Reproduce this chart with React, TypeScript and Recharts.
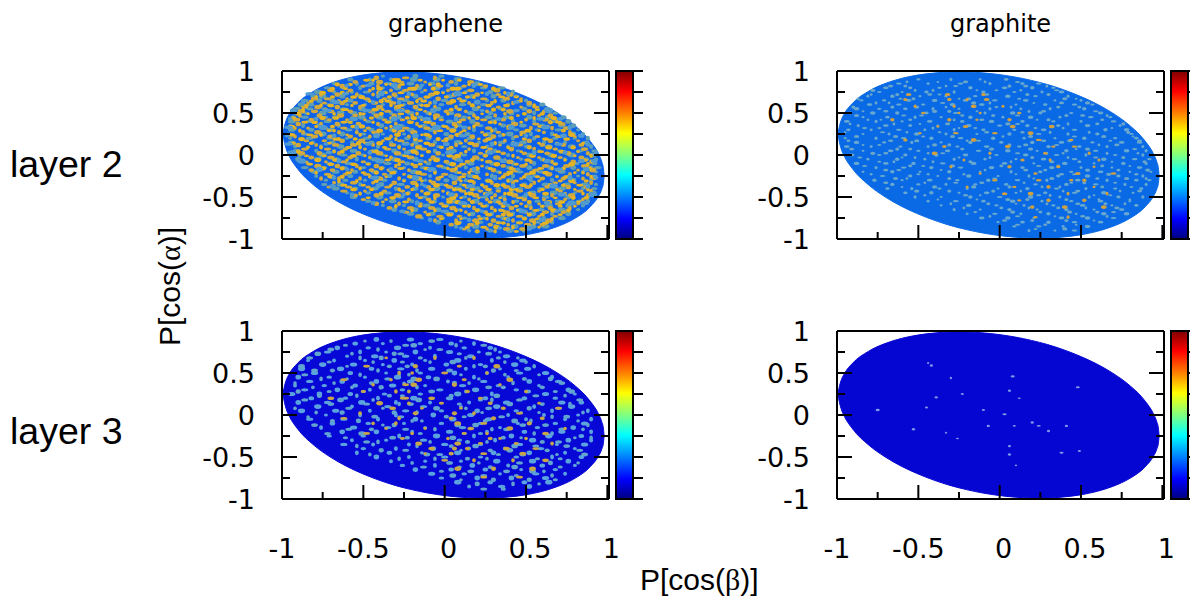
import { Area, Bar, BarChart, ComposedChart, Scatter, XAxis, YAxis } from 'recharts'

// each speck row is [y, x, x, x ...] in hundredths
const ellipseX = [-0.995, -0.985, -0.975, -0.955, -0.905, -0.805, -0.705, -0.605, -0.505, -0.405, -0.305, -0.205, -0.105, -0.005, 0.095, 0.195, 0.295, 0.395, 0.495, 0.595, 0.695, 0.795, 0.895, 0.945, 0.965, 0.975, 0.98]
const ellipseTop = [0.247, 0.342, 0.41, 0.491, 0.615, 0.76, 0.85, 0.911, 0.951, 0.975, 0.988, 0.988, 0.978, 0.958, 0.928, 0.888, 0.838, 0.775, 0.699, 0.609, 0.498, 0.358, 0.163, 0.015, -0.077, -0.15, -0.247]
const ellipseBottom = [0.247, 0.15, 0.077, -0.015, -0.163, -0.358, -0.498, -0.609, -0.699, -0.775, -0.838, -0.888, -0.928, -0.958, -0.978, -0.988, -0.988, -0.975, -0.951, -0.911, -0.85, -0.76, -0.615, -0.491, -0.41, -0.342, -0.247]

const axisTicks = [-1, -0.75, -0.5, -0.25, 0, 0.25, 0.5, 0.75, 1]
const barTicks = [0, 0.125, 0.25, 0.375, 0.5, 0.625, 0.75, 0.875, 1]
const jetOffsets = ['0%', '12%', '25%', '37%', '50%', '62%', '75%', '88%', '100%']
const jetColors = ['#800000', '#ff0000', '#ff8000', '#ffff00', '#80ff80', '#00ffff', '#0080ff', '#0000ff', '#000080']

const tlWarm = [
  [92, -42, -24, -6],
  [87, -55, -40, -27, -12, 4, 16],
  [82, -63, -50, -41, -28, -17, -3, 12, 25],
  [77, -70, -58, -46, -33, -24, -12, 2, 16, 32],
  [72, -76, -66, -54, -44, -31, -20, -8, 6, 20, 33, 40],
  [67, -80, -72, -60, -48, -37, -27, -15, -4, 9, 24, 38, 47],
  [62, -84, -74, -63, -55, -43, -32, -21, -9, 3, 15, 29, 42, 52],
  [57, -86, -78, -66, -52, -40, -29, -18, -6, 7, 21, 33, 47, 56],
  [52, -88, -80, -70, -58, -46, -35, -23, -12, 1, 13, 26, 40, 52, 61],
  [47, -89, -77, -64, -55, -42, -31, -20, -5, 8, 18, 31, 45, 58, 65],
  [42, -91, -82, -71, -60, -49, -37, -26, -14, -2, 11, 24, 36, 50, 62, 69],
  [37, -90, -76, -66, -53, -41, -30, -17, -7, 6, 20, 34, 43, 56, 72],
  [32, -92, -84, -73, -62, -47, -36, -24, -11, 2, 15, 27, 39, 53, 66, 75],
  [27, -87, -78, -65, -54, -43, -28, -19, -6, 10, 23, 33, 48, 61, 77],
  [22, -92, -80, -70, -58, -46, -33, -22, -9, 4, 17, 30, 44, 57, 70, 80],
  [17, -85, -74, -63, -51, -38, -27, -15, 0, 13, 25, 37, 52, 65, 82],
  [12, -90, -79, -67, -56, -44, -32, -20, -8, 7, 19, 34, 46, 60, 73, 84],
  [7, -86, -72, -61, -49, -35, -25, -13, 2, 15, 28, 41, 55, 68, 86],
  [2, -88, -77, -65, -53, -40, -29, -17, -4, 10, 22, 36, 49, 63, 76, 88],
  [-3, -82, -70, -58, -46, -33, -21, -7, 6, 19, 32, 45, 58, 71, 84],
  [-8, -86, -73, -62, -50, -38, -26, -12, 1, 14, 27, 40, 53, 66, 79, 90],
  [-13, -78, -66, -54, -42, -30, -18, -3, 9, 23, 36, 48, 62, 75, 86],
  [-18, -82, -69, -57, -45, -34, -22, -9, 5, 17, 30, 43, 56, 70, 82, 91],
  [-23, -72, -61, -48, -37, -25, -13, 0, 12, 26, 38, 51, 64, 77, 88],
  [-28, -76, -65, -52, -40, -28, -16, -4, 8, 21, 34, 47, 60, 73, 85, 92],
  [-33, -68, -56, -44, -31, -19, -7, 6, 18, 29, 42, 55, 68, 80, 90],
  [-38, -71, -59, -47, -35, -23, -10, 3, 14, 25, 38, 51, 63, 76, 87],
  [-43, -62, -49, -37, -26, -14, -1, 11, 22, 33, 46, 58, 71, 83, 90],
  [-48, -55, -42, -29, -17, -5, 7, 19, 31, 43, 54, 66, 78, 88],
  [-53, -50, -36, -22, -10, 3, 15, 26, 37, 49, 61, 74, 85],
  [-58, -42, -28, -15, -2, 10, 22, 35, 47, 58, 70, 82],
  [-63, -34, -21, -8, 5, 18, 29, 41, 53, 65, 77],
  [-68, -24, -12, 1, 13, 25, 38, 50, 62, 73],
  [-73, -16, -3, 9, 21, 33, 46, 58, 68],
  [-78, -6, 7, 19, 30, 42, 54, 64],
  [-83, 4, 16, 28, 39, 51, 60],
  [-88, 12, 26, 38, 48],
]
const tlWarm2 = [
  [89, -48, -44, -31, -29, -15, -1, 9],
  [84, -66, -58, -36, -33, -26, -9, -4, 15, 22],
  [79, -69, -61, -44, -40, -21, -19, -7, 5, 8, 30],
  [74, -75, -63, -60, -41, -36, -27, -5, -1, 12, 23, 37],
  [69, -79, -69, -56, -51, -34, -23, -11, 1, 14, 18, 35, 44],
  [64, -82, -65, -61, -46, -39, -35, -17, -13, 5, 11, 31, 46],
  [59, -85, -76, -70, -57, -50, -33, -27, -14, -11, 17, 27, 38, 55],
  [54, -87, -73, -62, -60, -43, -38, -26, -15, 4, 9, 30, 36, 57],
  [49, -90, -84, -68, -52, -50, -39, -27, -17, -9, 2, 23, 37, 49, 60],
  [44, -93, -75, -67, -57, -45, -33, -23, -19, -6, 15, 20, 41, 55, 67],
  [39, -86, -80, -62, -58, -44, -35, -21, -12, -10, 9, 28, 31, 47, 65, 70],
  [34, -94, -79, -69, -56, -51, -33, -28, -15, 0, 7, 18, 40, 59, 63],
  [29, -89, -71, -68, -49, -40, -31, -26, -3, 5, 12, 29, 51, 58, 73],
  [24, -94, -83, -76, -60, -52, -41, -29, -14, -11, 8, 25, 36, 47, 68, 78],
  [19, -88, -67, -65, -55, -35, -30, -18, -4, 1, 21, 27, 49, 62, 75],
  [14, -93, -82, -71, -53, -48, -40, -24, -11, 10, 16, 31, 42, 58, 69, 85],
  [9, -84, -76, -59, -52, -37, -28, -16, -2, 4, 24, 39, 52, 64, 79],
  [4, -90, -68, -63, -45, -42, -22, -19, -10, 13, 26, 33, 47, 59, 72, 82],
  [-1, -85, -74, -56, -49, -36, -24, -14, 3, 8, 25, 42, 54, 67, 80, 90],
  [-6, -78, -67, -60, -41, -35, -29, -9, -5, 17, 23, 37, 51, 61, 74, 86],
  [-11, -83, -70, -56, -47, -28, -20, -15, 5, 11, 32, 44, 50, 68, 78, 88],
  [-16, -75, -63, -52, -39, -27, -11, 2, 7, 20, 28, 41, 59, 66, 73, 89],
  [-21, -79, -59, -50, -42, -32, -16, -6, 9, 15, 34, 40, 54, 62, 80, 85],
  [-26, -70, -63, -46, -36, -21, -2, 11, 19, 31, 36, 49, 57, 69, 75, 90],
  [-31, -65, -54, -42, -25, -14, -9, 10, 16, 27, 39, 44, 58, 71, 78, 87],
  [-36, -62, -50, -33, -17, -5, 1, 12, 23, 32, 36, 48, 53, 65, 73, 83],
  [-41, -56, -45, -28, -20, -8, 6, 9, 17, 27, 41, 44, 60, 69, 80, 88],
  [-46, -52, -39, -23, -11, 2, 13, 16, 25, 37, 40, 52, 62, 74, 85],
  [-51, -47, -32, -15, -6, 5, 10, 21, 29, 34, 46, 56, 68, 79, 87],
  [-56, -38, -24, -8, 3, 8, 17, 28, 33, 42, 52, 64, 72, 83],
  [-61, -30, -15, 0, 12, 15, 24, 36, 44, 50, 60, 71, 80],
  [-66, -20, -6, 7, 10, 20, 31, 35, 45, 56, 67, 76],
  [-71, -10, 3, 15, 27, 36, 40, 52, 60, 71],
  [-76, -2, 10, 22, 26, 38, 49, 57, 66],
  [-81, 8, 20, 33, 36, 46, 55, 62],
  [-86, 14, 24, 32, 42, 52, 58],
  [-91, 20, 31, 44],
]
const tlTeal = [
  [94, -38, -18, -2],
  [90, -58, -46, -33, -19, -5, 8],
  [85, -68, -54, -45, -35, -21, -8, 7, 20],
  [80, -72, -62, -52, -38, -29, -16, -5, 10, 24, 35],
  [75, -78, -68, -57, -48, -37, -26, -14, -1, 13, 28, 42],
  [70, -80, -75, -63, -52, -41, -30, -18, -9, 3, 17, 30, 44],
  [65, -86, -77, -69, -58, -47, -34, -24, -12, 0, 12, 26, 36, 50],
  [60, -88, -82, -71, -60, -49, -38, -25, -15, -2, 11, 24, 39, 52, 60],
  [55, -91, -83, -74, -62, -51, -41, -30, -17, -4, 9, 19, 35, 49, 63],
  [50, -92, -85, -75, -64, -56, -44, -33, -21, -10, 4, 16, 28, 41, 55, 68],
  [45, -93, -86, -73, -67, -51, -40, -28, -15, -3, 12, 27, 38, 52, 64, 73],
  [40, -94, -83, -72, -60, -47, -34, -22, -9, 3, 17, 30, 42, 55, 68, 76],
  [35, -95, -87, -77, -65, -52, -39, -27, -13, -1, 9, 22, 36, 48, 60, 72, 79],
  [30, -94, -82, -70, -59, -45, -32, -21, -8, 5, 18, 31, 44, 57, 70, 82],
  [25, -96, -86, -75, -63, -50, -38, -25, -12, 1, 14, 27, 40, 53, 66, 79, 85],
  [20, -95, -83, -71, -60, -48, -35, -23, -10, 3, 16, 28, 42, 55, 68, 80, 88],
  [15, -94, -81, -69, -57, -45, -33, -18, -6, 8, 21, 35, 48, 61, 74, 87],
  [10, -92, -84, -76, -64, -52, -41, -28, -16, -3, 12, 26, 39, 51, 64, 78, 90],
  [5, -91, -79, -68, -56, -43, -31, -19, -6, 5, 18, 31, 45, 58, 71, 83, 92],
  [0, -89, -75, -62, -50, -38, -26, -14, -1, 12, 25, 39, 52, 65, 78, 91],
  [-5, -90, -78, -67, -54, -43, -31, -18, -5, 8, 21, 34, 47, 60, 74, 87, 93],
  [-10, -84, -71, -59, -47, -35, -23, -10, 3, 16, 29, 42, 55, 68, 81, 92],
  [-15, -86, -74, -62, -50, -38, -25, -13, 0, 13, 26, 39, 52, 65, 79, 90, 94],
  [-20, -80, -67, -55, -43, -31, -19, -6, 7, 20, 33, 46, 59, 72, 85, 93],
  [-25, -79, -70, -58, -46, -34, -22, -9, 4, 16, 29, 42, 56, 69, 82, 92],
  [-30, -73, -61, -49, -37, -25, -12, 1, 13, 27, 40, 53, 66, 79, 90],
  [-35, -74, -64, -52, -39, -27, -14, -2, 10, 23, 36, 49, 62, 75, 86, 93],
  [-40, -67, -55, -43, -30, -18, -5, 8, 20, 33, 46, 59, 72, 85, 92],
  [-45, -60, -47, -35, -22, -10, 2, 15, 28, 41, 54, 67, 80, 91],
  [-50, -56, -40, -27, -13, -1, 12, 24, 36, 49, 62, 76, 88],
  [-55, -47, -32, -20, -6, 6, 19, 32, 44, 57, 70, 83, 88],
  [-60, -38, -25, -11, 1, 14, 26, 39, 52, 64, 76, 85],
  [-65, -31, -18, -4, 9, 21, 34, 46, 59, 72, 82],
  [-70, -21, -8, 4, 17, 29, 42, 54, 66, 76],
  [-75, -14, -1, 12, 24, 36, 49, 61, 72],
  [-80, -4, 9, 22, 33, 46, 57, 66],
  [-85, 7, 19, 31, 43, 54, 62],
  [-90, 15, 28, 40, 49],
]
const tlTeal2 = [
  [83, -60, -47, -31, -14, 2, 18],
  [73, -83, -61, -39, -22, 8, 26, 39],
  [63, -87, -67, -44, -28, -6, 20, 44],
  [53, -93, -72, -48, -27, -7, 23, 44, 64],
  [43, -95, -79, -56, -31, -11, 7, 33, 59, 71],
  [33, -96, -75, -54, -29, -5, 12, 41, 62, 77],
  [23, -97, -68, -42, -18, 11, 34, 50, 73, 84],
  [13, -96, -73, -47, -24, 1, 29, 43, 70, 88],
  [3, -94, -71, -46, -23, 3, 28, 55, 74, 93],
  [-7, -88, -65, -40, -15, 10, 36, 63, 84, 92],
  [-17, -77, -60, -33, -8, 18, 45, 70, 87],
  [-27, -68, -43, -18, 6, 31, 52, 77, 93],
  [-37, -69, -41, -12, 16, 42, 67, 88],
  [-47, -57, -25, 4, 26, 50, 72, 91],
  [-57, -44, -17, 11, 37, 63, 78, 86],
  [-67, -26, 0, 23, 48, 69],
  [-77, -9, 15, 39, 60],
  [-87, 10, 34, 52],
]

const trPale = [
  [90, -50, -30, -12, 4],
  [85, -62, -44, -24, -6, 14, 24],
  [80, -70, -55, -37, -18, 3, 20, 33],
  [75, -74, -60, -45, -28, -10, 9, 26, 38],
  [70, -81, -66, -49, -33, -15, 5, 22, 42],
  [65, -85, -71, -56, -40, -21, -3, 16, 34, 50],
  [60, -80, -62, -47, -29, -11, 10, 28, 46, 57],
  [55, -88, -74, -58, -41, -25, -6, 13, 31, 52],
  [50, -92, -78, -63, -45, -27, -9, 8, 25, 44, 62],
  [45, -84, -69, -52, -36, -18, 2, 19, 37, 56, 68],
  [40, -94, -76, -60, -43, -23, -5, 14, 33, 50, 70],
  [35, -87, -70, -55, -38, -19, 0, 17, 36, 54, 74],
  [30, -93, -79, -62, -46, -28, -10, 9, 27, 46, 65, 78],
  [25, -84, -68, -51, -33, -14, 6, 24, 42, 60, 81],
  [20, -95, -76, -59, -42, -24, -4, 15, 34, 52, 71, 84],
  [15, -88, -71, -54, -36, -18, 1, 20, 38, 57, 75, 86],
  [10, -94, -79, -61, -44, -26, -8, 12, 30, 49, 66, 88],
  [5, -84, -67, -50, -32, -13, 5, 23, 41, 59, 78, 90],
  [0, -91, -74, -58, -39, -21, -2, 16, 35, 53, 71, 88],
  [-5, -81, -63, -46, -28, -9, 10, 27, 46, 64, 83, 92],
  [-10, -88, -70, -53, -35, -16, 3, 21, 40, 58, 76, 90],
  [-15, -76, -59, -42, -24, -5, 14, 32, 50, 69, 86],
  [-20, -84, -66, -49, -31, -12, 7, 25, 44, 62, 80, 93],
  [-25, -72, -55, -38, -19, -1, 18, 36, 54, 73, 88],
  [-30, -77, -60, -43, -26, -7, 11, 29, 48, 66, 84, 92],
  [-35, -66, -50, -33, -15, 4, 22, 41, 59, 77, 90],
  [-40, -69, -54, -37, -20, -1, 17, 35, 53, 71, 87],
  [-45, -58, -42, -25, -8, 10, 28, 46, 64, 82],
  [-50, -52, -36, -18, 0, 19, 37, 55, 73, 88],
  [-55, -44, -27, -10, 8, 26, 44, 62, 80],
  [-60, -36, -19, -2, 15, 33, 51, 69, 84],
  [-65, -28, -12, 6, 23, 41, 58, 75],
  [-70, -20, -3, 13, 30, 47, 64, 78],
  [-75, -11, 5, 21, 38, 54, 70],
  [-80, -1, 14, 30, 46, 62],
  [-85, 9, 24, 39, 54],
  [-90, 18, 34, 46],
]
const trPale2 = [
  [87, -57, -38, -21, -9, 11],
  [82, -67, -58, -33, -27, 6, 16, 29],
  [77, -78, -52, -41, -14, -2, 13, 35],
  [72, -79, -63, -43, -37, -8, 17, 30],
  [67, -87, -61, -53, -25, -19, 12, 40, 47],
  [62, -76, -68, -35, -16, -6, 21, 38, 54],
  [57, -90, -66, -51, -33, -2, 7, 36, 49],
  [52, -84, -70, -40, -31, -14, 18, 27, 59],
  [47, -88, -59, -48, -23, -4, 11, 41, 51, 66],
  [42, -81, -73, -55, -28, -11, 23, 30, 63],
  [37, -92, -65, -49, -32, 5, 11, 42, 60, 76],
  [32, -83, -74, -41, -25, -15, 22, 39, 69],
  [27, -95, -72, -57, -37, -8, 14, 31, 55, 79],
  [22, -88, -64, -47, -29, 2, 19, 46, 64, 82],
  [17, -93, -67, -51, -20, -13, 27, 43, 68, 86],
  [12, -84, -74, -40, -31, 6, 16, 35, 61, 72],
  [7, -91, -63, -55, -23, -5, 19, 47, 54, 83],
  [2, -78, -70, -44, -35, 11, 29, 39, 66, 85],
  [-3, -86, -60, -52, -25, -6, 20, 42, 59, 76],
  [-8, -74, -65, -41, -18, 7, 32, 49, 69, 89],
  [-13, -83, -55, -47, -29, 1, 24, 36, 63, 80],
  [-18, -70, -62, -36, -9, 16, 28, 54, 73, 91],
  [-23, -79, -50, -44, -22, 10, 38, 46, 67, 84],
  [-28, -64, -57, -31, -3, 21, 32, 60, 78, 90],
  [-33, -70, -46, -27, -11, 15, 44, 52, 71],
  [-38, -60, -40, -16, 6, 26, 37, 63, 81],
  [-43, -51, -31, -4, 13, 39, 48, 74, 86],
  [-48, -46, -21, -12, 24, 31, 58, 68],
  [-53, -38, -14, 5, 17, 41, 61, 80],
  [-58, -30, -7, 10, 29, 48, 65, 77],
  [-63, -22, 1, 18, 36, 53, 72],
  [-68, -15, 8, 25, 43, 60, 70],
  [-73, -6, 11, 34, 51, 66],
  [-78, 3, 20, 41, 58],
  [-83, 11, 28, 47],
  [-88, 22, 40],
]
const trWarm = [
  [72, -56, -32, -10],
  [66, -58, -31, -20, -8],
  [58, -52, -28, -16, 2],
  [50, -47, -25, -12, 12],
  [42, -66, -31, -14, 6],
  [34, -38, -21, 8, 32],
  [26, -49, -27, -3, 19],
  [18, -58, -16, 24, 44],
  [10, -34, 5, 33, 46],
  [2, -40, -6, 28, 55],
  [-6, -22, 14, 31, 61],
  [-14, -30, 6, 36, 58],
  [-22, -12, 22, 48, 70],
  [-30, -3, 24, 44, 52],
  [-38, -20, 9, 30, 58],
  [-46, 3, 19, 42, 66],
  [-54, 12, 30, 52],
  [-62, 20, 40, 64],
  [-74, 22, 42],
]

const blPale = [
  [90, -42, -21, -3],
  [85, -55, -38, -15, 4, 18],
  [80, -66, -47, -29, -9, 12, 28],
  [75, -72, -52, -36, -18, 3, 21, 34],
  [70, -60, -43, -24, -6, 16, 38],
  [65, -84, -68, -49, -31, -12, 8, 29, 48],
  [60, -75, -56, -38, -20, 1, 22, 43],
  [55, -88, -64, -45, -27, -8, 13, 34, 51],
  [50, -80, -58, -36, -15, 6, 26, 46, 62],
  [45, -90, -71, -49, -29, -10, 18, 39, 66],
  [40, -83, -63, -42, -21, 2, 24, 52, 70],
  [35, -92, -74, -55, -32, -12, 11, 33, 58],
  [30, -86, -66, -46, -26, -3, 19, 44, 76],
  [25, -94, -77, -58, -37, -15, 8, 29, 62, 80],
  [20, -82, -61, -41, -19, 3, 25, 49, 68],
  [15, -90, -72, -51, -30, -9, 15, 38, 72, 84],
  [10, -78, -57, -35, -13, 10, 32, 55, 78],
  [5, -88, -67, -46, -24, -2, 20, 44, 66, 88],
  [0, -73, -52, -30, -7, 16, 39, 61, 82],
  [-5, -83, -62, -41, -18, 5, 27, 50, 74, 90],
  [-10, -69, -47, -25, -2, 22, 45, 68, 86],
  [-15, -76, -56, -35, -12, 11, 34, 57, 79],
  [-20, -63, -42, -20, 3, 26, 49, 72, 90],
  [-25, -71, -50, -28, -5, 18, 41, 64, 84],
  [-30, -57, -36, -13, 9, 31, 54, 76, 90],
  [-35, -62, -44, -22, 0, 22, 46, 69, 86],
  [-40, -50, -30, -7, 15, 37, 59, 80],
  [-45, -54, -34, -14, 8, 30, 52, 74],
  [-50, -42, -22, 0, 22, 44, 66, 84],
  [-55, -33, -12, 10, 32, 54, 76],
  [-60, -26, -6, 17, 39, 60, 80],
  [-65, -18, 4, 25, 47, 68],
  [-70, -8, 12, 34, 56, 74],
  [-75, -2, 20, 41, 62],
  [-80, 8, 28, 49, 64],
  [-85, 15, 35, 52],
]
const blPale2 = [
  [88, -49, -33, -8, 10],
  [83, -61, -24, -19, 7, 24],
  [78, -70, -41, -12, -3, 31],
  [73, -78, -57, -31, -27, 9, 27],
  [68, -83, -52, -39, -15, 13, 33, 45],
  [63, -71, -44, -26, -9, 5, 37, 50],
  [58, -88, -60, -34, -23, 18, 25, 55],
  [53, -80, -69, -41, -17, 3, 30, 44],
  [48, -86, -52, -28, -22, 10, 37, 58],
  [43, -76, -60, -35, -19, -5, 21, 49, 65],
  [38, -92, -68, -45, -25, 6, 15, 42, 72],
  [33, -81, -57, -39, -17, 27, 36, 60],
  [28, -90, -71, -50, -22, -8, 13, 51, 68, 78],
  [23, -77, -54, -34, -26, 4, 32, 56, 74],
  [18, -86, -64, -44, -16, 22, 29, 46, 83],
  [13, -70, -48, -28, -21, 9, 40, 60, 77],
  [8, -92, -59, -38, -5, 13, 27, 52, 70],
  [3, -79, -63, -31, -17, 23, 47, 58, 85],
  [-2, -84, -43, -27, 1, 12, 35, 66, 75],
  [-7, -69, -53, -20, -14, 25, 43, 53, 82],
  [-12, -80, -38, -31, 8, 19, 48, 62, 88],
  [-17, -59, -45, -24, -6, 29, 38, 72, 85],
  [-22, -72, -51, -15, 12, 22, 55, 66],
  [-27, -61, -32, -23, 5, 36, 47, 80, 90],
  [-32, -48, -41, -9, 14, 26, 60, 70],
  [-37, -54, -17, 4, 19, 43, 56, 75],
  [-42, -39, -24, 10, 28, 40, 63, 83],
  [-47, -46, -11, -3, 33, 48, 69, 86],
  [-52, -28, -6, 14, 26, 57, 71],
  [-57, -20, 3, 21, 46, 65, 82],
  [-62, -13, 9, 28, 43, 71],
  [-67, -2, 16, 38, 54, 61],
  [-72, 5, 24, 44, 66],
  [-77, 10, 30, 52, 68],
  [-82, 20, 42, 58],
  [-88, 24, 36],
]
const blWarm = [
  [68, -36, -6, 18],
  [58, -48, -18, 9, 32],
  [50, -28, -20, 0, 26],
  [42, -62, -33, -16, 12, 40],
  [36, -44, -24, -19, 6, 34],
  [28, -50, -30, -22, 14, 50],
  [20, -70, -26, -24, -8, 22],
  [14, -40, -22, -2, 28, 58],
  [8, -32, -14, 10, 36, 70],
  [2, -52, -18, 6, 18, 46],
  [-4, -62, -28, 4, 30, 60],
  [-10, -44, -30, 8, 24, 52],
  [-16, -36, -12, 16, 40, 74],
  [-22, -48, -20, 12, 26, 62],
  [-28, -26, 2, 28, 34, 50],
  [-34, -16, 8, 22, 44, 66],
  [-40, -8, 14, 6, 38, 56],
  [-46, -12, 4, 24, 48],
  [-54, 0, 18, 42, 62],
  [-64, 8, 30, 54],
  [-74, 24, 46],
]

const brPoints = [
  [62, -44], [59, -42], [46, 8], [44, -30], [33, 48], [29, 6], [25, -23], [21, -39], [20, 12],
  [9, -45], [6, -75], [6, -10], [1, 3], [-9, 20], [-13, -7], [-13, 9], [-13, 24], [-13, 41],
  [-17, -53], [-19, 30], [-21, -33], [-28, -26], [-37, 6], [-43, 49], [-45, 38], [-47, 6], [-60, 10],
]

const ellipseData = ellipseX.map((x, i) => ({ x, range: [ellipseBottom[i], ellipseTop[i]] }))
const fromRows = (rows: number[][]) =>
  rows.flatMap(([y, ...xs]) => xs.map(x => ({ x: x / 100, y: y / 100 })))

const font = '"DejaVu Sans"'
const isMajor = (v: number) => Math.abs(v * 2 - Math.round(v * 2)) < 1e-6

const bottomTick = (labels: boolean) => ({ x, y, payload }: any) => (
  <g>
    <line x1={x} y1={y} x2={x} y2={y - (isMajor(payload.value) ? 14 : 7)} stroke='#000' strokeWidth={2} />
    {labels && isMajor(payload.value) && (
      <text x={x + (payload.value < 0 ? 0 : 4)} y={y + 59} textAnchor='middle' fontFamily={font} fontSize={27} fill='#000'>
        {String(payload.value)}
      </text>
    )}
  </g>
)
const topTick = ({ x, y, payload }: any) => (
  <line x1={x} y1={y} x2={x} y2={y + (isMajor(payload.value) ? 14 : 7)} stroke='#000' strokeWidth={2} />
)
const leftTick = ({ x, y, payload }: any) => (
  <g>
    <line x1={x} y1={y} x2={x + (isMajor(payload.value) ? 15 : 8)} y2={y} stroke='#000' strokeWidth={2} />
    {isMajor(payload.value) && (
      <text x={x - 27} y={y + 10} textAnchor='end' fontFamily={font} fontSize={27} fill='#000'>
        {String(payload.value)}
      </text>
    )}
  </g>
)
const rightTick = ({ x, y, payload }: any) => (
  <line x1={x} y1={y} x2={x - (isMajor(payload.value) ? 15 : 8)} y2={y} stroke='#000' strokeWidth={2} />
)
const barTick = ({ x, y }: any) => <line x1={x} y1={y} x2={x + 10} y2={y} stroke='#000' strokeWidth={2} />

// blob width varies a little so the specks do not read as a lattice
const speck = (rx: number, ry: number) => ({ cx, cy, fill }: any) => (
  <ellipse cx={cx} cy={cy} rx={rx * (0.7 + 0.3 * (Math.round(cx * 3) % 3))} ry={ry * (0.8 + 0.2 * (Math.round(cx * 2) % 3))} fill={fill} />
)

interface Layer {
  rows: number[][];
  color: string;
  rx: number;
  ry: number;
}

interface PanelProps {
  left: number;
  top: number;
  labels: boolean;
  fill: string;
  layers: Layer[];
}

function Panel ({ left, top, labels, fill, layers }: PanelProps) {
  return (
    <div style={{ position: 'absolute', left: left - 82, top: top - 15 }}>
      <ComposedChart width={440} height={258} margin={{ top: 0, right: 0, bottom: 0, left: 0 }}>
        <Area data={ellipseData} dataKey='range' type='monotone' fill={fill} fillOpacity={1} stroke={fill} strokeWidth={1} dot={false} activeDot={false} isAnimationActive={false} />
        {layers.map((layer, i) => (
          <Scatter key={i} data={fromRows(layer.rows)} fill={layer.color} shape={speck(layer.rx, layer.ry)} isAnimationActive={false} />
        ))}
        <XAxis xAxisId={0} dataKey='x' type='number' domain={[-1, 1.01]} ticks={axisTicks} interval={0} height={75} tickSize={0} tickMargin={0} tick={bottomTick(labels)} tickLine={false} axisLine={{ stroke: '#000', strokeWidth: 2 }} allowDataOverflow />
        <XAxis xAxisId='top' orientation='top' type='number' domain={[-1, 1.01]} ticks={axisTicks} interval={0} height={15} tickSize={0} tickMargin={0} tick={topTick} tickLine={false} axisLine={{ stroke: '#000', strokeWidth: 2 }} allowDataOverflow />
        <YAxis yAxisId={0} dataKey='y' type='number' domain={[-1, 1]} ticks={axisTicks} interval={0} width={82} tickSize={0} tickMargin={0} tick={leftTick} tickLine={false} axisLine={{ stroke: '#000', strokeWidth: 2 }} allowDataOverflow />
        <YAxis yAxisId='right' orientation='right' type='number' domain={[-1, 1]} ticks={axisTicks} interval={0} width={31} tickSize={0} tickMargin={0} tick={rightTick} tickLine={false} axisLine={{ stroke: '#000', strokeWidth: 2 }} allowDataOverflow />
      </ComposedChart>
    </div>
  )
}

function ColorBar ({ left, top, id }: { left: number; top: number; id: string }) {
  return (
    <div style={{ position: 'absolute', left: left - 2, top: top - 2 }}>
      <BarChart width={31} height={172} data={[{ band: 'z', value: 1 }]} barCategoryGap={0} margin={{ top: 2, right: 0, bottom: 2, left: 2 }}>
        <defs>
          <linearGradient id={id} x1='0' y1='0' x2='0' y2='1'>
            {jetColors.map((c, i) => <stop key={c} offset={jetOffsets[i]} stopColor={c} />)}
          </linearGradient>
        </defs>
        <XAxis dataKey='band' hide />
        <YAxis orientation='right' type='number' domain={[0, 1]} ticks={barTicks} interval={0} width={12} tickSize={0} tickMargin={0} tick={barTick} tickLine={false} axisLine={false} />
        <Bar dataKey='value' fill={`url(#${id})`} stroke='#000' strokeWidth={2} isAnimationActive={false} />
      </BarChart>
    </div>
  )
}

const textStyle = (left: number, top: number, size: number, family: string) => ({
  position: 'absolute' as const,
  left,
  top,
  fontSize: size,
  fontFamily: family,
  lineHeight: 1,
  color: '#000',
  whiteSpace: 'nowrap' as const,
})
const liberation = '"Liberation Sans"'

export default function App () {
  return (
    <div style={{ position: 'absolute', left: 0, top: 0, width: 1190, height: 598, overflow: 'hidden', background: '#fff' }}>
      <Panel left={282} top={71} labels={false} fill='#0c62ea'
        layers={[
          { rows: tlTeal, color: '#5f9fb4', rx: 3, ry: 2 },
          { rows: tlWarm, color: '#cfa83e', rx: 2.8, ry: 1.9 },
          { rows: tlWarm2, color: '#e6b422', rx: 2.6, ry: 1.8 },
          { rows: tlTeal2, color: '#4f9ad0', rx: 3.4, ry: 2.2 },
        ]} />
      <Panel left={837} top={71} labels={false} fill='#0a6ae6'
        layers={[
          { rows: trPale, color: '#66a8d0', rx: 2.2, ry: 1.4 },
          { rows: trPale2, color: '#6aa6c8', rx: 2, ry: 1.3 },
          { rows: trWarm, color: '#d0a040', rx: 2.2, ry: 1.5 },
        ]} />
      <Panel left={282} top={331} labels fill='#0808d6'
        layers={[
          { rows: blPale, color: '#5aa2e0', rx: 2.8, ry: 2 },
          { rows: blPale2, color: '#62a4d0', rx: 2.6, ry: 1.9 },
          { rows: blWarm, color: '#c8a648', rx: 2.6, ry: 1.8 },
        ]} />
      <Panel left={837} top={331} labels fill='#0606d2'
        layers={[
          { rows: brPoints.map(([y, x]) => [y, x]), color: '#7a9ae8', rx: 1.6, ry: 1 },
        ]} />
      <ColorBar left={616} top={71} id='jet1' />
      <ColorBar left={1171} top={71} id='jet2' />
      <ColorBar left={616} top={331} id='jet3' />
      <ColorBar left={1171} top={331} id='jet4' />
      <div style={textStyle(388, 12, 24, font)}>graphene</div>
      <div style={textStyle(950, 12, 24, font)}>graphite</div>
      <div style={textStyle(10, 146, 37.5, liberation)}>layer 2</div>
      <div style={textStyle(10, 413, 37.5, liberation)}>layer 3</div>
      <div style={textStyle(640, 565, 30, liberation)}>P[cos(<span style={{ fontFamily: '"Liberation Serif"' }}>β</span>)]</div>
      <div style={{ ...textStyle(155, 346, 30, liberation), transform: 'rotate(-90deg)', transformOrigin: '0 0' }}>P[cos(<span style={{ fontFamily: '"Liberation Serif"' }}>α</span>)]</div>
    </div>
  )
}
